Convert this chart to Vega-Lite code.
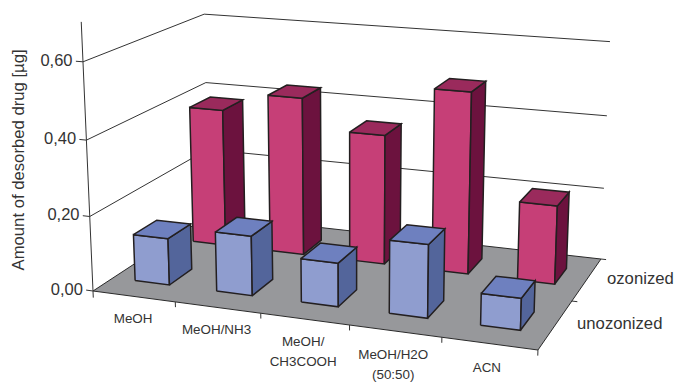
{
  "$schema": "https://vega.github.io/schema/vega-lite/v6.json",
  "width": 674,
  "height": 382,
  "padding": 0,
  "autosize": {"type": "fit", "contains": "padding"},
  "background": "white",
  "config": {"view": {"stroke": null}, "text": {"font": "Liberation Sans"}},
  "datasets": {
    "bars": [
      {"solvent": "MeOH", "series": "ozonized", "amount": 0.386},
      {"solvent": "MeOH/NH3", "series": "ozonized", "amount": 0.439},
      {"solvent": "MeOH/\nCH3COOH", "series": "ozonized", "amount": 0.357},
      {"solvent": "MeOH/H2O\n(50:50)", "series": "ozonized", "amount": 0.493},
      {"solvent": "ACN", "series": "ozonized", "amount": 0.212},
      {"solvent": "MeOH", "series": "unozonized", "amount": 0.126},
      {"solvent": "MeOH/NH3", "series": "unozonized", "amount": 0.159},
      {"solvent": "MeOH/\nCH3COOH", "series": "unozonized", "amount": 0.115},
      {"solvent": "MeOH/H2O\n(50:50)", "series": "unozonized", "amount": 0.19},
      {"solvent": "ACN", "series": "unozonized", "amount": 0.0815}
    ],
    "ticks": [
      {"tick": 0, "label": "0,00"},
      {"tick": 0.2, "label": "0,20"},
      {"tick": 0.4, "label": "0,40"},
      {"tick": 0.6, "label": "0,60"}
    ]
  },
  "encoding": {
    "x": {"field": "px", "type": "quantitative", "scale": {"domain": [0, 674], "nice": false}, "axis": null},
    "y": {"field": "py", "type": "quantitative", "scale": {"domain": [382, 0], "nice": false}, "axis": null}
  },
  "layer": [
    {
      "data": {"values": [{"part": "floor"}]},
      "transform": [
        {"calculate": "[0,1,2,3,4]", "as": "k"},
        {"flatten": ["k"]},
        {"calculate": "datum.k==1||datum.k==2?1:0", "as": "U"},
        {"calculate": "datum.k==2||datum.k==3?1:0", "as": "V"},
        {"calculate": "0", "as": "T"},
        {"calculate": "1-0.0923*datum.U+0.15*datum.V-0.0617*datum.T", "as": "W"},
        {"calculate": "(395.3*datum.U+147.35*datum.V-21.8*datum.T+93)/datum.W", "as": "px"},
        {"calculate": "(26.7*datum.U-43.75*datum.V-385.8*datum.T+291)/datum.W", "as": "py"}
      ],
      "mark": {"type": "line", "fill": "#97989b", "stroke": "#2a2a2a", "strokeWidth": 1, "strokeJoin": "miter"},
      "encoding": {
        "order": {"field": "k", "type": "quantitative"}
      }
    },
    {
      "data": {"name": "ticks"},
      "transform": [
        {"filter": "datum.tick>0"},
        {"calculate": "[0,1,2]", "as": "k"},
        {"flatten": ["k"]},
        {"calculate": "datum.k==2?1:0", "as": "U"},
        {"calculate": "datum.k>0?1:0", "as": "V"},
        {"calculate": "datum.tick", "as": "T"},
        {"calculate": "1-0.0923*datum.U+0.15*datum.V-0.0617*datum.T", "as": "W"},
        {"calculate": "(395.3*datum.U+147.35*datum.V-21.8*datum.T+93)/datum.W", "as": "px"},
        {"calculate": "(26.7*datum.U-43.75*datum.V-385.8*datum.T+291)/datum.W", "as": "py"}
      ],
      "mark": {"type": "line", "stroke": "#333333", "strokeWidth": 1},
      "encoding": {
        "detail": {"field": "tick"},
        "order": {"field": "k", "type": "quantitative"}
      }
    },
    {
      "data": {"values": [{"T": -0.018}, {"T": 0.7}]},
      "transform": [
        {"calculate": "1-0.0617*datum.T", "as": "W"},
        {"calculate": "(-21.8*datum.T+93)/datum.W", "as": "px"},
        {"calculate": "(-385.8*datum.T+291)/datum.W", "as": "py"}
      ],
      "mark": {"type": "line", "stroke": "#333333", "strokeWidth": 1},
      "encoding": {
        "order": {"field": "T", "type": "quantitative"}
      }
    },
    {
      "data": {"name": "ticks"},
      "transform": [
        {"calculate": "[0,1]", "as": "k"},
        {"flatten": ["k"]},
        {"calculate": "datum.k==0?0:-0.017", "as": "U"},
        {"calculate": "datum.tick", "as": "T"},
        {"calculate": "1-0.0923*datum.U-0.0617*datum.T", "as": "W"},
        {"calculate": "(395.3*datum.U-21.8*datum.T+93)/datum.W", "as": "px"},
        {"calculate": "(26.7*datum.U-385.8*datum.T+291)/datum.W", "as": "py"}
      ],
      "mark": {"type": "line", "stroke": "#333333", "strokeWidth": 1},
      "encoding": {
        "detail": {"field": "tick"},
        "order": {"field": "k", "type": "quantitative"}
      }
    },
    {
      "data": {"name": "bars"},
      "transform": [
        {"filter": "datum.series=='unozonized'"},
        {"calculate": "(indexof(['MeOH','MeOH/NH3','MeOH/\\nCH3COOH','MeOH/H2O\\n(50:50)','ACN'],datum.solvent)+1)*0.2", "as": "U"},
        {"calculate": "[0,1]", "as": "k"},
        {"flatten": ["k"]},
        {"calculate": "datum.k==0?0:-0.014", "as": "T"},
        {"calculate": "1-0.0923*datum.U-0.0617*datum.T", "as": "W"},
        {"calculate": "(395.3*datum.U-21.8*datum.T+93)/datum.W", "as": "px"},
        {"calculate": "(26.7*datum.U-385.8*datum.T+291)/datum.W", "as": "py"}
      ],
      "mark": {"type": "line", "stroke": "#333333", "strokeWidth": 1},
      "encoding": {
        "detail": {"field": "solvent"},
        "order": {"field": "k", "type": "quantitative"}
      }
    },
    {
      "data": {"values": [{"edge": 0.5}, {"edge": 1}]},
      "transform": [
        {"calculate": "[0,1]", "as": "k"},
        {"flatten": ["k"]},
        {"calculate": "datum.k==0?1:1.012", "as": "U"},
        {"calculate": "datum.edge", "as": "V"},
        {"calculate": "1-0.0923*datum.U+0.15*datum.V", "as": "W"},
        {"calculate": "(395.3*datum.U+147.35*datum.V+93)/datum.W", "as": "px"},
        {"calculate": "(26.7*datum.U-43.75*datum.V+291)/datum.W", "as": "py"}
      ],
      "mark": {"type": "line", "stroke": "#333333", "strokeWidth": 1},
      "encoding": {
        "detail": {"field": "edge"},
        "order": {"field": "k", "type": "quantitative"}
      }
    },
    {
      "data": {"name": "bars"},
      "transform": [
        {"calculate": "indexof(['MeOH','MeOH/NH3','MeOH/\\nCH3COOH','MeOH/H2O\\n(50:50)','ACN'],datum.solvent)", "as": "i"},
        {"calculate": "(datum.i+0.5)*0.2-0.045", "as": "u0"},
        {"calculate": "datum.u0+0.085", "as": "u1"},
        {"calculate": "(datum.series=='ozonized'?0.75:0.25)-0.095", "as": "v0"},
        {"calculate": "datum.v0+0.19", "as": "v1"},
        {"calculate": "['front','side','top']", "as": "face"},
        {"flatten": ["face"]},
        {"calculate": "[0,1,2,3,4]", "as": "k"},
        {"flatten": ["k"]},
        {"calculate": "datum.k%4", "as": "c"},
        {"calculate": "datum.face=='side'?datum.u1:(datum.c==0||datum.c==3?datum.u0:datum.u1)", "as": "U"},
        {"calculate": "datum.face=='front'?datum.v0:datum.face=='side'?(datum.c==0||datum.c==3?datum.v0:datum.v1):(datum.c<2?datum.v0:datum.v1)", "as": "V"},
        {"calculate": "datum.face=='top'?datum.amount:(datum.c<2?0:datum.amount)", "as": "T"},
        {"calculate": "1-0.0923*datum.U+0.15*datum.V-0.0617*datum.T", "as": "W"},
        {"calculate": "(395.3*datum.U+147.35*datum.V-21.8*datum.T+93)/datum.W", "as": "px"},
        {"calculate": "(26.7*datum.U-43.75*datum.V-385.8*datum.T+291)/datum.W", "as": "py"},
        {"calculate": "datum.series+' '+datum.face", "as": "shade"},
        {"calculate": "datum.series+datum.i+datum.face", "as": "poly"}
      ],
      "mark": {"type": "line", "stroke": "#231f20", "strokeWidth": 1.5, "strokeJoin": "miter"},
      "encoding": {
        "detail": {"field": "poly"},
        "fill": {
          "field": "shade", "type": "nominal", "legend": null,
          "scale": {
            "domain": ["ozonized front", "ozonized side", "ozonized top", "unozonized front", "unozonized side", "unozonized top"],
            "range": ["#c63f77", "#6c123e", "#9a2a5c", "#8f9dcf", "#53659b", "#6e80bf"]
          }
        },
        "order": {"field": "k", "type": "quantitative"}
      }
    },
    {
      "data": {"name": "ticks"},
      "transform": [
        {"calculate": "-0.025", "as": "U"},
        {"calculate": "datum.tick", "as": "T"},
        {"calculate": "1-0.0923*datum.U-0.0617*datum.T", "as": "W"},
        {"calculate": "(395.3*datum.U-21.8*datum.T+93)/datum.W", "as": "px"},
        {"calculate": "(26.7*datum.U-385.8*datum.T+291)/datum.W", "as": "py"}
      ],
      "mark": {"type": "text", "align": "right", "baseline": "middle", "fontSize": 16.5, "color": "#333333"},
      "encoding": {
        "text": {"field": "label"}
      }
    },
    {
      "data": {"values": [{"title": "Amount of desorbed drug [µg]"}]},
      "transform": [
        {"calculate": "-0.1692", "as": "U"},
        {"calculate": "0.33", "as": "T"},
        {"calculate": "1-0.0923*datum.U-0.0617*datum.T", "as": "W"},
        {"calculate": "(395.3*datum.U-21.8*datum.T+93)/datum.W", "as": "px"},
        {"calculate": "(26.7*datum.U-385.8*datum.T+291)/datum.W", "as": "py"}
      ],
      "mark": {"type": "text", "angle": 270, "align": "center", "baseline": "middle", "fontSize": 16.7, "color": "#333333"},
      "encoding": {
        "text": {"field": "title"}
      }
    },
    {
      "data": {"name": "bars"},
      "transform": [
        {"filter": "datum.series=='unozonized'"},
        {"calculate": "(indexof(['MeOH','MeOH/NH3','MeOH/\\nCH3COOH','MeOH/H2O\\n(50:50)','ACN'],datum.solvent)+0.5)*0.2-0.004", "as": "U"},
        {"calculate": "-0.072", "as": "T"},
        {"calculate": "1-0.0923*datum.U-0.0617*datum.T", "as": "W"},
        {"calculate": "(395.3*datum.U-21.8*datum.T+93)/datum.W", "as": "px"},
        {"calculate": "(26.7*datum.U-385.8*datum.T+291)/datum.W", "as": "py"}
      ],
      "mark": {"type": "text", "align": "center", "baseline": "alphabetic", "fontSize": 13.4, "lineBreak": "\n", "lineHeight": 20, "color": "#333333"},
      "encoding": {
        "text": {"field": "solvent"}
      }
    },
    {
      "data": {"values": [{"series": "ozonized"}, {"series": "unozonized"}]},
      "transform": [
        {"calculate": "1.045", "as": "U"},
        {"calculate": "datum.series=='ozonized'?0.75:0.25", "as": "V"},
        {"calculate": "0.008", "as": "T"},
        {"calculate": "1-0.0923*datum.U+0.15*datum.V-0.0617*datum.T", "as": "W"},
        {"calculate": "(395.3*datum.U+147.35*datum.V-21.8*datum.T+93)/datum.W", "as": "px"},
        {"calculate": "(26.7*datum.U-43.75*datum.V-385.8*datum.T+291)/datum.W", "as": "py"}
      ],
      "mark": {"type": "text", "align": "left", "baseline": "middle", "fontSize": 16.7, "color": "#333333"},
      "encoding": {
        "text": {"field": "series"}
      }
    }
  ]
}
